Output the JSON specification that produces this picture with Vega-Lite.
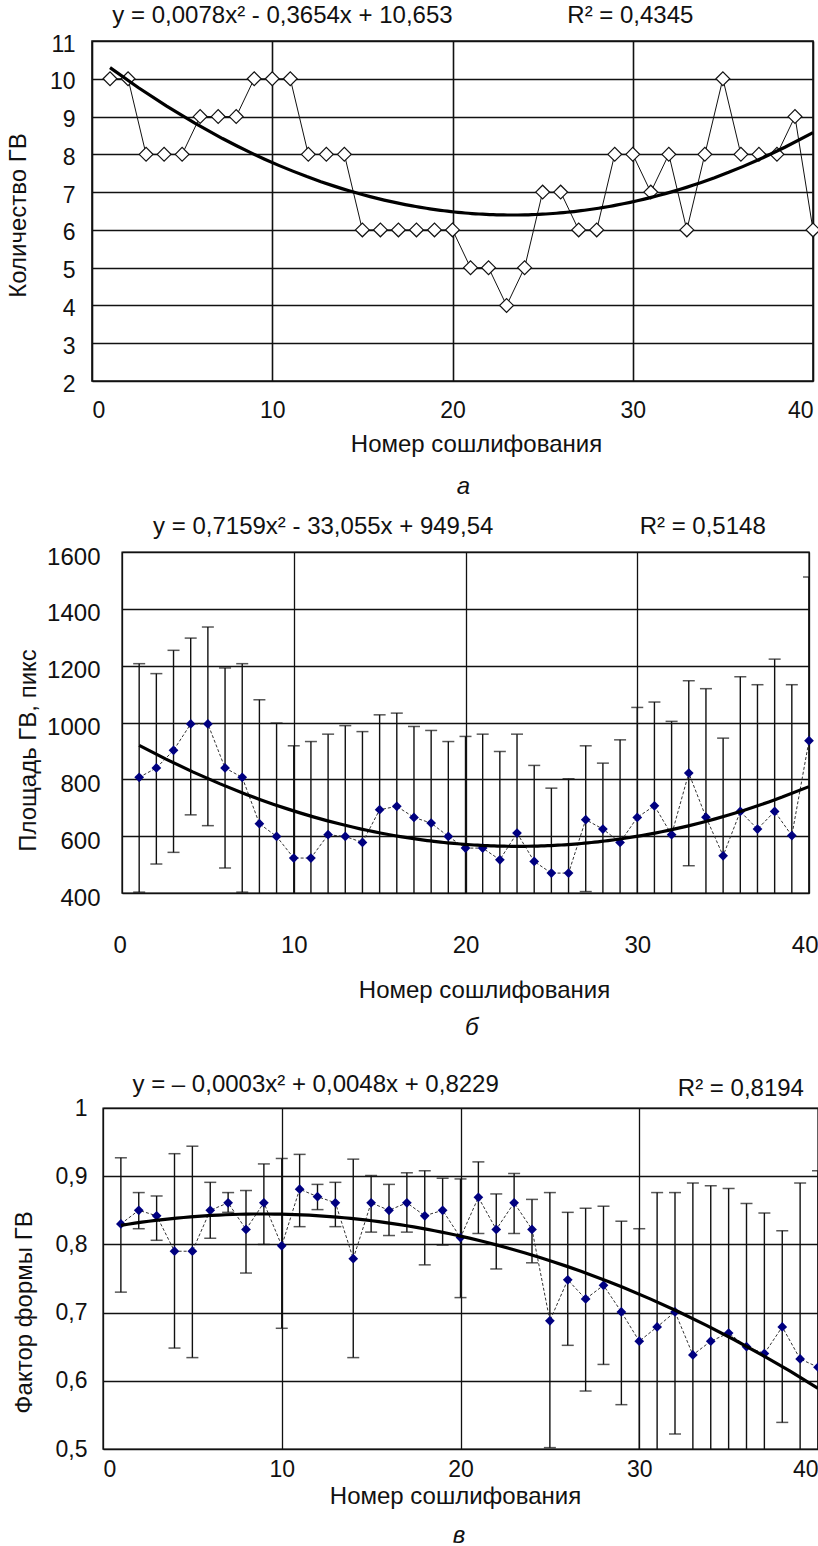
{
  "$schema": "https://vega.github.io/schema/vega-lite/v6.json",
  "padding": 0,
  "background": "white",
  "config": {
    "font": "Liberation Sans",
    "view": {"stroke": null},
    "axis": {"grid": true, "gridColor": "#111", "ticks": false, "domain": false, "labelFontSize": 23, "labelColor": "#111",
      "titleFontSize": 24, "titleFontWeight": "normal", "titleColor": "#111", "labelOverlap": false}
  },
  "datasets": {
    "a": [
      {"x":1,"v":10},{"x":2,"v":10},{"x":3,"v":8},{"x":4,"v":8},{"x":5,"v":8},{"x":6,"v":9},{"x":7,"v":9},{"x":8,"v":9},{"x":9,"v":10},{"x":10,"v":10},
      {"x":11,"v":10},{"x":12,"v":8},{"x":13,"v":8},{"x":14,"v":8},{"x":15,"v":6},{"x":16,"v":6},{"x":17,"v":6},{"x":18,"v":6},{"x":19,"v":6},{"x":20,"v":6},
      {"x":21,"v":5},{"x":22,"v":5},{"x":23,"v":4},{"x":24,"v":5},{"x":25,"v":7},{"x":26,"v":7},{"x":27,"v":6},{"x":28,"v":6},{"x":29,"v":8},{"x":30,"v":8},
      {"x":31,"v":7},{"x":32,"v":8},{"x":33,"v":6},{"x":34,"v":8},{"x":35,"v":10},{"x":36,"v":8},{"x":37,"v":8},{"x":38,"v":8},{"x":39,"v":9},{"x":40,"v":6}
    ],
    "b": [
      {"x":1,"v":807,"lo":403,"hi":1207},{"x":2,"v":840,"lo":502,"hi":1172},{"x":3,"v":902,"lo":543,"hi":1254},{"x":4,"v":995,"lo":675,"hi":1297},{"x":5,"v":995,"lo":637,"hi":1336},
      {"x":6,"v":840,"lo":488,"hi":1192},{"x":7,"v":807,"lo":403,"hi":1207},{"x":8,"v":644,"lo":208,"hi":1080},{"x":9,"v":599,"lo":200,"hi":998},{"x":10,"v":523,"lo":128,"hi":918},
      {"x":11,"v":523,"lo":113,"hi":933},{"x":12,"v":605,"lo":251,"hi":959},{"x":13,"v":599,"lo":209,"hi":989},{"x":14,"v":578,"lo":188,"hi":968},{"x":15,"v":693,"lo":359,"hi":1027},
      {"x":16,"v":705,"lo":377,"hi":1033},{"x":17,"v":666,"lo":346,"hi":986},{"x":18,"v":646,"lo":320,"hi":972},{"x":19,"v":599,"lo":265,"hi":933},{"x":20,"v":558,"lo":165,"hi":951},
      {"x":21,"v":558,"lo":157,"hi":959},{"x":22,"v":517,"lo":136,"hi":898},{"x":23,"v":611,"lo":263,"hi":959},{"x":24,"v":511,"lo":173,"hi":849},{"x":25,"v":470,"lo":171,"hi":769},
      {"x":26,"v":470,"lo":138,"hi":802},{"x":27,"v":658,"lo":405,"hi":918},{"x":28,"v":625,"lo":393,"hi":857},{"x":29,"v":578,"lo":217,"hi":939},{"x":30,"v":666,"lo":279,"hi":1053},
      {"x":31,"v":707,"lo":342,"hi":1072},{"x":32,"v":605,"lo":206,"hi":1004},{"x":33,"v":822,"lo":496,"hi":1147},{"x":34,"v":667,"lo":215,"hi":1119},{"x":35,"v":531,"lo":117,"hi":945},
      {"x":36,"v":687,"lo":213,"hi":1161},{"x":37,"v":625,"lo":117,"hi":1133},{"x":38,"v":687,"lo":151,"hi":1223},{"x":39,"v":602,"lo":71,"hi":1133},{"x":40,"v":936,"lo":360,"hi":1512}
    ],
    "c": [
      {"x":1,"v":0.830,"lo":0.730,"hi":0.927},{"x":2,"v":0.850,"lo":0.823,"hi":0.876},{"x":3,"v":0.842,"lo":0.806,"hi":0.871},{"x":4,"v":0.790,"lo":0.648,"hi":0.933},{"x":5,"v":0.790,"lo":0.634,"hi":0.944},
      {"x":6,"v":0.850,"lo":0.809,"hi":0.891},{"x":7,"v":0.861,"lo":0.847,"hi":0.876},{"x":8,"v":0.822,"lo":0.758,"hi":0.879},{"x":9,"v":0.861,"lo":0.800,"hi":0.918},{"x":10,"v":0.798,"lo":0.677,"hi":0.926},
      {"x":11,"v":0.881,"lo":0.826,"hi":0.932},{"x":12,"v":0.870,"lo":0.851,"hi":0.888},{"x":13,"v":0.861,"lo":0.826,"hi":0.891},{"x":14,"v":0.779,"lo":0.634,"hi":0.925},{"x":15,"v":0.861,"lo":0.818,"hi":0.901},
      {"x":16,"v":0.850,"lo":0.813,"hi":0.888},{"x":17,"v":0.861,"lo":0.818,"hi":0.905},{"x":18,"v":0.842,"lo":0.770,"hi":0.908},{"x":19,"v":0.850,"lo":0.799,"hi":0.897},{"x":20,"v":0.810,"lo":0.722,"hi":0.896},
      {"x":21,"v":0.869,"lo":0.816,"hi":0.921},{"x":22,"v":0.822,"lo":0.764,"hi":0.874},{"x":23,"v":0.861,"lo":0.816,"hi":0.904},{"x":24,"v":0.822,"lo":0.773,"hi":0.866},{"x":25,"v":0.688,"lo":0.502,"hi":0.876},
      {"x":26,"v":0.748,"lo":0.652,"hi":0.847},{"x":27,"v":0.720,"lo":0.585,"hi":0.853},{"x":28,"v":0.740,"lo":0.624,"hi":0.856},{"x":29,"v":0.701,"lo":0.565,"hi":0.834},{"x":30,"v":0.658,"lo":0.493,"hi":0.823},
      {"x":31,"v":0.679,"lo":0.482,"hi":0.876},{"x":32,"v":0.701,"lo":0.522,"hi":0.876},{"x":33,"v":0.638,"lo":0.386,"hi":0.890},{"x":34,"v":0.658,"lo":0.430,"hi":0.886},{"x":35,"v":0.670,"lo":0.458,"hi":0.882},
      {"x":36,"v":0.650,"lo":0.440,"hi":0.860},{"x":37,"v":0.640,"lo":0.434,"hi":0.846},{"x":38,"v":0.679,"lo":0.539,"hi":0.820},{"x":39,"v":0.632,"lo":0.374,"hi":0.890},{"x":40,"v":0.620,"lo":0.332,"hi":0.908}
    ]
  },
  "columns": 2,
  "spacing": 0,
  "bounds": "full",
  "align": "none",
  "concat": [
    {"width": 1, "height": 1, "data": {"values": []}, "mark": "point"},
    {
      "width": 721, "height": 340,
      "view": {"stroke": "#111", "strokeWidth": 1.6},
      "layer": [
        {"data": {"name": "a"}, "mark": {"type": "line", "color": "#111", "strokeWidth": 1},
          "encoding": {
            "x": {"field": "x", "type": "quantitative", "scale": {"domain": [0, 40], "nice": false, "zero": false},
              "axis": {"values": [0, 10, 20, 30, 40], "gridWidth": 1.6, "labelFlush": true, "labelPadding": 29, "labelBaseline": "middle",
                "title": "Номер сошлифования", "titleX": 384, "titleY": 63, "titleBaseline": "middle"}},
            "y": {"field": "v", "type": "quantitative", "scale": {"domain": [2, 11], "nice": false, "zero": false},
              "axis": {"values": [2, 3, 4, 5, 6, 7, 8, 9, 10, 11], "gridWidth": 1.6, "labelPadding": 17, "labelOffset": 3,
                "title": "Количество ГВ", "titleX": -74, "titleY": 174, "titleBaseline": "middle"}}
          }},
        {"data": {"name": "a"}, "mark": {"type": "point", "shape": "diamond", "filled": true, "fill": "white", "stroke": "#111", "strokeWidth": 1.2, "size": 190, "opacity": 1},
          "encoding": {
            "x": {"field": "x", "type": "quantitative", "scale": {"domain": [0, 40], "nice": false, "zero": false},
              "axis": {"values": [0, 10, 20, 30, 40], "gridWidth": 1.6, "labelFlush": true, "labelPadding": 29, "labelBaseline": "middle",
                "title": "Номер сошлифования", "titleX": 384, "titleY": 63, "titleBaseline": "middle"}},
            "y": {"field": "v", "type": "quantitative", "scale": {"domain": [2, 11], "nice": false, "zero": false},
              "axis": {"values": [2, 3, 4, 5, 6, 7, 8, 9, 10, 11], "gridWidth": 1.6, "labelPadding": 17, "labelOffset": 3,
                "title": "Количество ГВ", "titleX": -74, "titleY": 174, "titleBaseline": "middle"}}
          }},
        {"data": {"name": "a"}, "transform": [{"regression": "v", "on": "x", "method": "poly", "order": 2, "extent": [1, 40]}],
          "mark": {"type": "line", "color": "#000", "strokeWidth": 3.2},
          "encoding": {
            "x": {"field": "x", "type": "quantitative", "scale": {"domain": [0, 40], "nice": false, "zero": false},
              "axis": {"values": [0, 10, 20, 30, 40], "gridWidth": 1.6, "labelFlush": true, "labelPadding": 29, "labelBaseline": "middle",
                "title": "Номер сошлифования", "titleX": 384, "titleY": 63, "titleBaseline": "middle"}},
            "y": {"field": "v", "type": "quantitative", "scale": {"domain": [2, 11], "nice": false, "zero": false},
              "axis": {"values": [2, 3, 4, 5, 6, 7, 8, 9, 10, 11], "gridWidth": 1.6, "labelPadding": 17, "labelOffset": 3,
                "title": "Количество ГВ", "titleX": -74, "titleY": 174, "titleBaseline": "middle"}}
          }},
        {
          "data": {"values": [{}]},
          "mark": {"type": "text", "text": "y = 0,0078x² - 0,3654x + 10,653", "align": "left", "baseline": "middle", "fontSize": 24, "color": "#111"},
          "encoding": {
            "x": {"datum": 1.13, "type": "quantitative", "scale": {"domain": [0, 40], "nice": false, "zero": false},
              "axis": {"values": [0, 10, 20, 30, 40], "gridWidth": 1.6, "labelFlush": true, "labelPadding": 29, "labelBaseline": "middle",
                "title": "Номер сошлифования", "titleX": 384, "titleY": 63, "titleBaseline": "middle"}},
            "y": {"datum": 11.653, "type": "quantitative", "scale": {"domain": [2, 11], "nice": false, "zero": false},
              "axis": {"values": [2, 3, 4, 5, 6, 7, 8, 9, 10, 11], "gridWidth": 1.6, "labelPadding": 17, "labelOffset": 3,
                "title": "Количество ГВ", "titleX": -74, "titleY": 174, "titleBaseline": "middle"}}
          }
        },
        {
          "data": {"values": [{}]},
          "mark": {"type": "text", "text": "R² = 0,4345", "align": "left", "baseline": "middle", "fontSize": 24, "color": "#111"},
          "encoding": {
            "x": {"datum": 26.37, "type": "quantitative", "scale": {"domain": [0, 40], "nice": false, "zero": false},
              "axis": {"values": [0, 10, 20, 30, 40], "gridWidth": 1.6, "labelFlush": true, "labelPadding": 29, "labelBaseline": "middle",
                "title": "Номер сошлифования", "titleX": 384, "titleY": 63, "titleBaseline": "middle"}},
            "y": {"datum": 11.653, "type": "quantitative", "scale": {"domain": [2, 11], "nice": false, "zero": false},
              "axis": {"values": [2, 3, 4, 5, 6, 7, 8, 9, 10, 11], "gridWidth": 1.6, "labelPadding": 17, "labelOffset": 3,
                "title": "Количество ГВ", "titleX": -74, "titleY": 174, "titleBaseline": "middle"}}
          }
        },
        {
          "data": {"values": [{}]},
          "mark": {"type": "text", "text": "а", "align": "center", "baseline": "middle", "fontSize": 24, "fontStyle": "italic", "color": "#111"},
          "encoding": {
            "x": {"datum": 20.6, "type": "quantitative", "scale": {"domain": [0, 40], "nice": false, "zero": false},
              "axis": {"values": [0, 10, 20, 30, 40], "gridWidth": 1.6, "labelFlush": true, "labelPadding": 29, "labelBaseline": "middle",
                "title": "Номер сошлифования", "titleX": 384, "titleY": 63, "titleBaseline": "middle"}},
            "y": {"datum": -0.8, "type": "quantitative", "scale": {"domain": [2, 11], "nice": false, "zero": false},
              "axis": {"values": [2, 3, 4, 5, 6, 7, 8, 9, 10, 11], "gridWidth": 1.6, "labelPadding": 17, "labelOffset": 3,
                "title": "Количество ГВ", "titleX": -74, "titleY": 174, "titleBaseline": "middle"}}
          }
        },
        {
          "data": {"values": [{}]},
          "mark": {"type": "rule", "opacity": 0, "strokeOpacity": 0},
          "encoding": {
            "x": {"datum": -5.004, "type": "quantitative", "scale": {"domain": [0, 40], "nice": false, "zero": false},
              "axis": {"values": [0, 10, 20, 30, 40], "gridWidth": 1.6, "labelFlush": true, "labelPadding": 29, "labelBaseline": "middle",
                "title": "Номер сошлифования", "titleX": 384, "titleY": 63, "titleBaseline": "middle"}},
            "y": {"datum": 12.0641, "type": "quantitative", "scale": {"domain": [2, 11], "nice": false, "zero": false},
              "axis": {"values": [2, 3, 4, 5, 6, 7, 8, 9, 10, 11], "gridWidth": 1.6, "labelPadding": 17, "labelOffset": 3,
                "title": "Количество ГВ", "titleX": -74, "titleY": 174, "titleBaseline": "middle"}},
            "y2": {"datum": -1.3088}
          }
        }
      ]
    },

    {"width": 1, "height": 1, "data": {"values": []}, "mark": "point"},
    {
      "width": 687, "height": 341,
      "view": {"stroke": "#111", "strokeWidth": 1.4},
      "layer": [
        {
          "data": {"name": "b"},
          "mark": {"type": "rule", "color": "#111", "strokeWidth": 1.4, "clip": true},
          "encoding": {
            "x": {"field": "x", "type": "quantitative", "scale": {"domain": [0, 40], "nice": false, "zero": false},
              "axis": {"values": [0, 10, 20, 30, 40], "gridWidth": 1.3, "labelFlush": true, "labelFlushOffset": 9, "labelPadding": 52, "labelBaseline": "middle", "labelFontSize": 24,
                "title": "Номер сошлифования", "titleX": 362, "titleY": 97, "titleBaseline": "middle"}},
            "y": {"field": "lo", "type": "quantitative", "scale": {"domain": [400, 1600], "nice": false, "zero": false},
              "axis": {"values": [400, 600, 800, 1000, 1200, 1400, 1600], "format": "d", "gridWidth": 1.3, "labelPadding": 22, "labelOffset": 5, "labelFontSize": 24,
                "title": "Площадь ГВ, пикс", "titleX": -94, "titleY": 198, "titleBaseline": "middle"}},
            "y2": {"field": "hi"}
          }
        },
        {
          "data": {"name": "b"},
          "mark": {"type": "tick", "orient": "horizontal", "color": "#111", "size": 12, "thickness": 1.5, "clip": true},
          "encoding": {
            "x": {"field": "x", "type": "quantitative", "scale": {"domain": [0, 40], "nice": false, "zero": false},
              "axis": {"values": [0, 10, 20, 30, 40], "gridWidth": 1.3, "labelFlush": true, "labelFlushOffset": 9, "labelPadding": 52, "labelBaseline": "middle", "labelFontSize": 24,
                "title": "Номер сошлифования", "titleX": 362, "titleY": 97, "titleBaseline": "middle"}},
            "y": {"field": "hi", "type": "quantitative", "scale": {"domain": [400, 1600], "nice": false, "zero": false},
              "axis": {"values": [400, 600, 800, 1000, 1200, 1400, 1600], "format": "d", "gridWidth": 1.3, "labelPadding": 22, "labelOffset": 5, "labelFontSize": 24,
                "title": "Площадь ГВ, пикс", "titleX": -94, "titleY": 198, "titleBaseline": "middle"}}
          }
        },
        {
          "data": {"name": "b"},
          "mark": {"type": "tick", "orient": "horizontal", "color": "#111", "size": 12, "thickness": 1.5, "clip": true},
          "encoding": {
            "x": {"field": "x", "type": "quantitative", "scale": {"domain": [0, 40], "nice": false, "zero": false},
              "axis": {"values": [0, 10, 20, 30, 40], "gridWidth": 1.3, "labelFlush": true, "labelFlushOffset": 9, "labelPadding": 52, "labelBaseline": "middle", "labelFontSize": 24,
                "title": "Номер сошлифования", "titleX": 362, "titleY": 97, "titleBaseline": "middle"}},
            "y": {"field": "lo", "type": "quantitative", "scale": {"domain": [400, 1600], "nice": false, "zero": false},
              "axis": {"values": [400, 600, 800, 1000, 1200, 1400, 1600], "format": "d", "gridWidth": 1.3, "labelPadding": 22, "labelOffset": 5, "labelFontSize": 24,
                "title": "Площадь ГВ, пикс", "titleX": -94, "titleY": 198, "titleBaseline": "middle"}}
          }
        },
        {
          "data": {"name": "b"},
          "mark": {"type": "line", "color": "#333", "strokeWidth": 1, "strokeDash": [3, 2]},
          "encoding": {
            "x": {"field": "x", "type": "quantitative", "scale": {"domain": [0, 40], "nice": false, "zero": false},
              "axis": {"values": [0, 10, 20, 30, 40], "gridWidth": 1.3, "labelFlush": true, "labelFlushOffset": 9, "labelPadding": 52, "labelBaseline": "middle", "labelFontSize": 24,
                "title": "Номер сошлифования", "titleX": 362, "titleY": 97, "titleBaseline": "middle"}},
            "y": {"field": "v", "type": "quantitative", "scale": {"domain": [400, 1600], "nice": false, "zero": false},
              "axis": {"values": [400, 600, 800, 1000, 1200, 1400, 1600], "format": "d", "gridWidth": 1.3, "labelPadding": 22, "labelOffset": 5, "labelFontSize": 24,
                "title": "Площадь ГВ, пикс", "titleX": -94, "titleY": 198, "titleBaseline": "middle"}}
          }
        },
        {
          "data": {"name": "b"},
          "mark": {"type": "point", "shape": "diamond", "filled": true, "color": "#000080", "size": 95, "opacity": 1},
          "encoding": {
            "x": {"field": "x", "type": "quantitative", "scale": {"domain": [0, 40], "nice": false, "zero": false},
              "axis": {"values": [0, 10, 20, 30, 40], "gridWidth": 1.3, "labelFlush": true, "labelFlushOffset": 9, "labelPadding": 52, "labelBaseline": "middle", "labelFontSize": 24,
                "title": "Номер сошлифования", "titleX": 362, "titleY": 97, "titleBaseline": "middle"}},
            "y": {"field": "v", "type": "quantitative", "scale": {"domain": [400, 1600], "nice": false, "zero": false},
              "axis": {"values": [400, 600, 800, 1000, 1200, 1400, 1600], "format": "d", "gridWidth": 1.3, "labelPadding": 22, "labelOffset": 5, "labelFontSize": 24,
                "title": "Площадь ГВ, пикс", "titleX": -94, "titleY": 198, "titleBaseline": "middle"}}
          }
        },
        {
          "data": {"name": "b"},
          "transform": [{"regression": "v", "on": "x", "method": "poly", "order": 2, "extent": [1, 40]}],
          "mark": {"type": "line", "color": "#000", "strokeWidth": 3.2},
          "encoding": {
            "x": {"field": "x", "type": "quantitative", "scale": {"domain": [0, 40], "nice": false, "zero": false},
              "axis": {"values": [0, 10, 20, 30, 40], "gridWidth": 1.3, "labelFlush": true, "labelFlushOffset": 9, "labelPadding": 52, "labelBaseline": "middle", "labelFontSize": 24,
                "title": "Номер сошлифования", "titleX": 362, "titleY": 97, "titleBaseline": "middle"}},
            "y": {"field": "v", "type": "quantitative", "scale": {"domain": [400, 1600], "nice": false, "zero": false},
              "axis": {"values": [400, 600, 800, 1000, 1200, 1400, 1600], "format": "d", "gridWidth": 1.3, "labelPadding": 22, "labelOffset": 5, "labelFontSize": 24,
                "title": "Площадь ГВ, пикс", "titleX": -94, "titleY": 198, "titleBaseline": "middle"}}
          }
        },
        {
          "data": {"values": [{}]},
          "mark": {"type": "text", "text": "y = 0,7159x² - 33,055x + 949,54", "align": "left", "baseline": "middle", "fontSize": 24, "color": "#111"},
          "encoding": {
            "x": {"datum": 1.81, "type": "quantitative", "scale": {"domain": [0, 40], "nice": false, "zero": false},
              "axis": {"values": [0, 10, 20, 30, 40], "gridWidth": 1.3, "labelFlush": true, "labelFlushOffset": 9, "labelPadding": 52, "labelBaseline": "middle", "labelFontSize": 24,
                "title": "Номер сошлифования", "titleX": 362, "titleY": 97, "titleBaseline": "middle"}},
            "y": {"datum": 1689, "type": "quantitative", "scale": {"domain": [400, 1600], "nice": false, "zero": false},
              "axis": {"values": [400, 600, 800, 1000, 1200, 1400, 1600], "format": "d", "gridWidth": 1.3, "labelPadding": 22, "labelOffset": 5, "labelFontSize": 24,
                "title": "Площадь ГВ, пикс", "titleX": -94, "titleY": 198, "titleBaseline": "middle"}}
          }
        },
        {
          "data": {"values": [{}]},
          "mark": {"type": "text", "text": "R² = 0,5148", "align": "left", "baseline": "middle", "fontSize": 24, "color": "#111"},
          "encoding": {
            "x": {"datum": 30.14, "type": "quantitative", "scale": {"domain": [0, 40], "nice": false, "zero": false},
              "axis": {"values": [0, 10, 20, 30, 40], "gridWidth": 1.3, "labelFlush": true, "labelFlushOffset": 9, "labelPadding": 52, "labelBaseline": "middle", "labelFontSize": 24,
                "title": "Номер сошлифования", "titleX": 362, "titleY": 97, "titleBaseline": "middle"}},
            "y": {"datum": 1689, "type": "quantitative", "scale": {"domain": [400, 1600], "nice": false, "zero": false},
              "axis": {"values": [400, 600, 800, 1000, 1200, 1400, 1600], "format": "d", "gridWidth": 1.3, "labelPadding": 22, "labelOffset": 5, "labelFontSize": 24,
                "title": "Площадь ГВ, пикс", "titleX": -94, "titleY": 198, "titleBaseline": "middle"}}
          }
        },
        {
          "data": {"values": [{}]},
          "mark": {"type": "text", "text": "б", "align": "center", "baseline": "middle", "fontSize": 24, "fontStyle": "italic", "color": "#111"},
          "encoding": {
            "x": {"datum": 20.37, "type": "quantitative", "scale": {"domain": [0, 40], "nice": false, "zero": false},
              "axis": {"values": [0, 10, 20, 30, 40], "gridWidth": 1.3, "labelFlush": true, "labelFlushOffset": 9, "labelPadding": 52, "labelBaseline": "middle", "labelFontSize": 24,
                "title": "Номер сошлифования", "titleX": 362, "titleY": 97, "titleBaseline": "middle"}},
            "y": {"datum": -74, "type": "quantitative", "scale": {"domain": [400, 1600], "nice": false, "zero": false},
              "axis": {"values": [400, 600, 800, 1000, 1200, 1400, 1600], "format": "d", "gridWidth": 1.3, "labelPadding": 22, "labelOffset": 5, "labelFontSize": 24,
                "title": "Площадь ГВ, пикс", "titleX": -94, "titleY": 198, "titleBaseline": "middle"}}
          }
        },
        {
          "data": {"values": [{}]},
          "mark": {"type": "rule", "opacity": 0, "strokeOpacity": 0},
          "encoding": {
            "x": {"datum": -6.9985, "type": "quantitative", "scale": {"domain": [0, 40], "nice": false, "zero": false},
              "axis": {"values": [0, 10, 20, 30, 40], "gridWidth": 1.3, "labelFlush": true, "labelFlushOffset": 9, "labelPadding": 52, "labelBaseline": "middle", "labelFontSize": 24,
                "title": "Номер сошлифования", "titleX": 362, "titleY": 97, "titleBaseline": "middle"}},
            "y": {"datum": 1754.84, "type": "quantitative", "scale": {"domain": [400, 1600], "nice": false, "zero": false},
              "axis": {"values": [400, 600, 800, 1000, 1200, 1400, 1600], "format": "d", "gridWidth": 1.3, "labelPadding": 22, "labelOffset": 5, "labelFontSize": 24,
                "title": "Площадь ГВ, пикс", "titleX": -94, "titleY": 198, "titleBaseline": "middle"}},
            "y2": {"datum": -180.65}
          }
        }
      ]
    },

    {"width": 1, "height": 1, "data": {"values": []}, "mark": "point"},
    {
      "width": 715, "height": 341,
      "view": {"stroke": "#111", "strokeWidth": 1.4},
      "layer": [
        {
          "data": {"name": "c"},
          "mark": {"type": "rule", "color": "#111", "strokeWidth": 1.4, "clip": true},
          "encoding": {
            "x": {"field": "x", "type": "quantitative", "scale": {"domain": [0, 40], "nice": false, "zero": false},
              "axis": {"values": [0, 10, 20, 30, 40], "gridWidth": 1.3, "labelFlush": true, "labelPadding": 20, "labelBaseline": "middle",
                "title": "Номер сошлифования", "titleX": 352, "titleY": 47, "titleBaseline": "middle"}},
            "y": {"field": "lo", "type": "quantitative", "scale": {"domain": [0.5, 1], "nice": false, "zero": false},
              "axis": {"values": [0.5, 0.6, 0.7, 0.8, 0.9, 1], "labelExpr": "replace(format(datum.value, '~g'), '.', ',')", "gridWidth": 1.3, "labelPadding": 16,
                "title": "Фактор формы ГВ", "titleX": -79, "titleY": 204, "titleBaseline": "middle"}},
            "y2": {"field": "hi"}
          }
        },
        {
          "data": {"name": "c"},
          "mark": {"type": "tick", "orient": "horizontal", "color": "#111", "size": 12, "thickness": 1.5, "clip": true},
          "encoding": {
            "x": {"field": "x", "type": "quantitative", "scale": {"domain": [0, 40], "nice": false, "zero": false},
              "axis": {"values": [0, 10, 20, 30, 40], "gridWidth": 1.3, "labelFlush": true, "labelPadding": 20, "labelBaseline": "middle",
                "title": "Номер сошлифования", "titleX": 352, "titleY": 47, "titleBaseline": "middle"}},
            "y": {"field": "hi", "type": "quantitative", "scale": {"domain": [0.5, 1], "nice": false, "zero": false},
              "axis": {"values": [0.5, 0.6, 0.7, 0.8, 0.9, 1], "labelExpr": "replace(format(datum.value, '~g'), '.', ',')", "gridWidth": 1.3, "labelPadding": 16,
                "title": "Фактор формы ГВ", "titleX": -79, "titleY": 204, "titleBaseline": "middle"}}
          }
        },
        {
          "data": {"name": "c"},
          "mark": {"type": "tick", "orient": "horizontal", "color": "#111", "size": 12, "thickness": 1.5, "clip": true},
          "encoding": {
            "x": {"field": "x", "type": "quantitative", "scale": {"domain": [0, 40], "nice": false, "zero": false},
              "axis": {"values": [0, 10, 20, 30, 40], "gridWidth": 1.3, "labelFlush": true, "labelPadding": 20, "labelBaseline": "middle",
                "title": "Номер сошлифования", "titleX": 352, "titleY": 47, "titleBaseline": "middle"}},
            "y": {"field": "lo", "type": "quantitative", "scale": {"domain": [0.5, 1], "nice": false, "zero": false},
              "axis": {"values": [0.5, 0.6, 0.7, 0.8, 0.9, 1], "labelExpr": "replace(format(datum.value, '~g'), '.', ',')", "gridWidth": 1.3, "labelPadding": 16,
                "title": "Фактор формы ГВ", "titleX": -79, "titleY": 204, "titleBaseline": "middle"}}
          }
        },
        {
          "data": {"name": "c"},
          "mark": {"type": "line", "color": "#333", "strokeWidth": 1, "strokeDash": [3, 2]},
          "encoding": {
            "x": {"field": "x", "type": "quantitative", "scale": {"domain": [0, 40], "nice": false, "zero": false},
              "axis": {"values": [0, 10, 20, 30, 40], "gridWidth": 1.3, "labelFlush": true, "labelPadding": 20, "labelBaseline": "middle",
                "title": "Номер сошлифования", "titleX": 352, "titleY": 47, "titleBaseline": "middle"}},
            "y": {"field": "v", "type": "quantitative", "scale": {"domain": [0.5, 1], "nice": false, "zero": false},
              "axis": {"values": [0.5, 0.6, 0.7, 0.8, 0.9, 1], "labelExpr": "replace(format(datum.value, '~g'), '.', ',')", "gridWidth": 1.3, "labelPadding": 16,
                "title": "Фактор формы ГВ", "titleX": -79, "titleY": 204, "titleBaseline": "middle"}}
          }
        },
        {
          "data": {"name": "c"},
          "mark": {"type": "point", "shape": "diamond", "filled": true, "color": "#000080", "size": 95, "opacity": 1},
          "encoding": {
            "x": {"field": "x", "type": "quantitative", "scale": {"domain": [0, 40], "nice": false, "zero": false},
              "axis": {"values": [0, 10, 20, 30, 40], "gridWidth": 1.3, "labelFlush": true, "labelPadding": 20, "labelBaseline": "middle",
                "title": "Номер сошлифования", "titleX": 352, "titleY": 47, "titleBaseline": "middle"}},
            "y": {"field": "v", "type": "quantitative", "scale": {"domain": [0.5, 1], "nice": false, "zero": false},
              "axis": {"values": [0.5, 0.6, 0.7, 0.8, 0.9, 1], "labelExpr": "replace(format(datum.value, '~g'), '.', ',')", "gridWidth": 1.3, "labelPadding": 16,
                "title": "Фактор формы ГВ", "titleX": -79, "titleY": 204, "titleBaseline": "middle"}}
          }
        },
        {
          "data": {"name": "c"},
          "transform": [{"regression": "v", "on": "x", "method": "poly", "order": 2, "extent": [1, 40]}],
          "mark": {"type": "line", "color": "#000", "strokeWidth": 3.2},
          "encoding": {
            "x": {"field": "x", "type": "quantitative", "scale": {"domain": [0, 40], "nice": false, "zero": false},
              "axis": {"values": [0, 10, 20, 30, 40], "gridWidth": 1.3, "labelFlush": true, "labelPadding": 20, "labelBaseline": "middle",
                "title": "Номер сошлифования", "titleX": 352, "titleY": 47, "titleBaseline": "middle"}},
            "y": {"field": "v", "type": "quantitative", "scale": {"domain": [0.5, 1], "nice": false, "zero": false},
              "axis": {"values": [0.5, 0.6, 0.7, 0.8, 0.9, 1], "labelExpr": "replace(format(datum.value, '~g'), '.', ',')", "gridWidth": 1.3, "labelPadding": 16,
                "title": "Фактор формы ГВ", "titleX": -79, "titleY": 204, "titleBaseline": "middle"}}
          }
        },
        {
          "data": {"values": [{}]},
          "mark": {"type": "text", "text": "y = – 0,0003x² + 0,0048x + 0,8229", "align": "left", "baseline": "middle", "fontSize": 24, "color": "#111"},
          "encoding": {
            "x": {"datum": 1.65, "type": "quantitative", "scale": {"domain": [0, 40], "nice": false, "zero": false},
              "axis": {"values": [0, 10, 20, 30, 40], "gridWidth": 1.3, "labelFlush": true, "labelPadding": 20, "labelBaseline": "middle",
                "title": "Номер сошлифования", "titleX": 352, "titleY": 47, "titleBaseline": "middle"}},
            "y": {"datum": 1.033, "type": "quantitative", "scale": {"domain": [0.5, 1], "nice": false, "zero": false},
              "axis": {"values": [0.5, 0.6, 0.7, 0.8, 0.9, 1], "labelExpr": "replace(format(datum.value, '~g'), '.', ',')", "gridWidth": 1.3, "labelPadding": 16,
                "title": "Фактор формы ГВ", "titleX": -79, "titleY": 204, "titleBaseline": "middle"}}
          }
        },
        {
          "data": {"values": [{}]},
          "mark": {"type": "text", "text": "R² = 0,8194", "align": "left", "baseline": "middle", "fontSize": 24, "color": "#111"},
          "encoding": {
            "x": {"datum": 32.16, "type": "quantitative", "scale": {"domain": [0, 40], "nice": false, "zero": false},
              "axis": {"values": [0, 10, 20, 30, 40], "gridWidth": 1.3, "labelFlush": true, "labelPadding": 20, "labelBaseline": "middle",
                "title": "Номер сошлифования", "titleX": 352, "titleY": 47, "titleBaseline": "middle"}},
            "y": {"datum": 1.028, "type": "quantitative", "scale": {"domain": [0.5, 1], "nice": false, "zero": false},
              "axis": {"values": [0.5, 0.6, 0.7, 0.8, 0.9, 1], "labelExpr": "replace(format(datum.value, '~g'), '.', ',')", "gridWidth": 1.3, "labelPadding": 16,
                "title": "Фактор формы ГВ", "titleX": -79, "titleY": 204, "titleBaseline": "middle"}}
          }
        },
        {
          "data": {"values": [{}]},
          "mark": {"type": "text", "text": "в", "align": "center", "baseline": "middle", "fontSize": 24, "fontStyle": "italic", "color": "#111"},
          "encoding": {
            "x": {"datum": 19.92, "type": "quantitative", "scale": {"domain": [0, 40], "nice": false, "zero": false},
              "axis": {"values": [0, 10, 20, 30, 40], "gridWidth": 1.3, "labelFlush": true, "labelPadding": 20, "labelBaseline": "middle",
                "title": "Номер сошлифования", "titleX": 352, "titleY": 47, "titleBaseline": "middle"}},
            "y": {"datum": 0.3727, "type": "quantitative", "scale": {"domain": [0.5, 1], "nice": false, "zero": false},
              "axis": {"values": [0.5, 0.6, 0.7, 0.8, 0.9, 1], "labelExpr": "replace(format(datum.value, '~g'), '.', ',')", "gridWidth": 1.3, "labelPadding": 16,
                "title": "Фактор формы ГВ", "titleX": -79, "titleY": 204, "titleBaseline": "middle"}}
          }
        },
        {
          "data": {"values": [{}]},
          "mark": {"type": "rule", "opacity": 0, "strokeOpacity": 0},
          "encoding": {
            "x": {"datum": -5.6168, "type": "quantitative", "scale": {"domain": [0, 40], "nice": false, "zero": false},
              "axis": {"values": [0, 10, 20, 30, 40], "gridWidth": 1.3, "labelFlush": true, "labelPadding": 20, "labelBaseline": "middle",
                "title": "Номер сошлифования", "titleX": 352, "titleY": 47, "titleBaseline": "middle"}},
            "y": {"datum": 1.07038, "type": "quantitative", "scale": {"domain": [0.5, 1], "nice": false, "zero": false},
              "axis": {"values": [0.5, 0.6, 0.7, 0.8, 0.9, 1], "labelExpr": "replace(format(datum.value, '~g'), '.', ',')", "gridWidth": 1.3, "labelPadding": 16,
                "title": "Фактор формы ГВ", "titleX": -79, "titleY": 204, "titleBaseline": "middle"}},
            "y2": {"datum": 0.5}
          }
        }
      ]
    }
  ]
}
